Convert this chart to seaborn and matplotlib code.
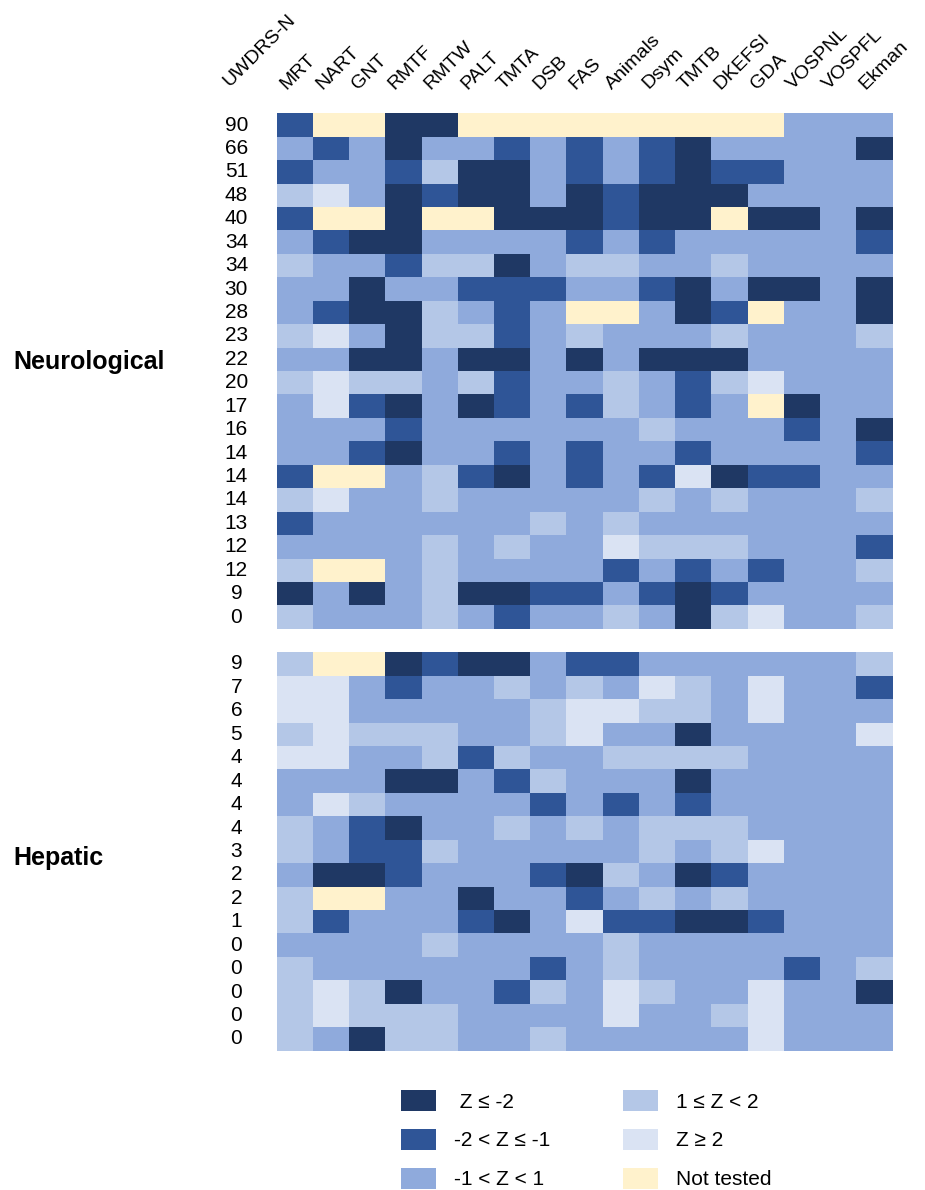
import numpy as np
import pandas as pd
import matplotlib
matplotlib.use("Agg")
import matplotlib.pyplot as plt
from matplotlib.colors import ListedColormap
from matplotlib.patches import Patch
from matplotlib.transforms import ScaledTranslation
import seaborn as sns

tests = ['MRT', 'NART', 'GNT', 'RMTF', 'RMTW', 'PALT', 'TMTA', 'DSB', 'FAS',
         'Animals', 'Dsym', 'TMTB', 'DKEFSI', 'GDA', 'VOSPNL', 'VOSPFL', 'Ekman']

neuro_uwdrs = [90, 66, 51, 48, 40, 34, 34, 30, 28, 23, 22, 20, 17, 16, 14, 14, 14, 13, 12, 12, 9, 0]
hepatic_uwdrs = [9, 7, 6, 5, 4, 4, 4, 4, 3, 2, 2, 1, 0, 0, 0, 0, 0]

# one letter per test: D Z<=-2, B -2<Z<=-1, M -1<Z<1, L 1<=Z<2, W Z>=2, N not tested
neuro_cells = [
    "BNNDDNNNNNNNNNMMM",
    "MBMDMMBMBMBDMMMMD",
    "BMMBLDDMBMBDBBMMM",
    "LWMDBDDMDBDDDMMMM",
    "BNNDNNDDDBDDNDDMD",
    "MBDDMMMMBMBMMMMMB",
    "LMMBLLDMLLMMLMMMM",
    "MMDMMBBBMMBDMDDMD",
    "MBDDLMBMNNMDBNMMD",
    "LWMDLLBMLMMMLMMML",
    "MMDDMDDMDMDDDMMMM",
    "LWLLMLBMMLMBLWMMM",
    "MWBDMDBMBLMBMNDMM",
    "MMMBMMMMMMLMMMBMD",
    "MMBDMMBMBMMBMMMMB",
    "BNNMLBDMBMBWDBBMM",
    "LWMMLMMMMMLMLMMML",
    "BMMMMMMLMLMMMMMMM",
    "MMMMLMLMMWLLLMMMB",
    "LNNMLMMMMBMBMBMML",
    "DMDMLDDBBMBDBMMMM",
    "LMMMLMBMMLMDLWMML",
]

hepatic_cells = [
    "LNNDBDDMBBMMMMMML",
    "WWMBMMLMLMWLMWMMB",
    "WWMMMMMLWWLLMWMMM",
    "LWLLLMMLWMMDMMMMW",
    "WWMMLBLMMLLLLMMMM",
    "MMMDDMBLMMMDMMMMM",
    "MWLMMMMBMBMBMMMMM",
    "LMBDMMLMLMLLLMMMM",
    "LMBBLMMMMMLMLWMMM",
    "MDDBMMMBDLMDBMMMM",
    "LNNMMDMMBMLMLMMMM",
    "LBMMMBDMWBBDDBMMM",
    "MMMMLMMMMLMMMMMMM",
    "LMMMMMMBMLMMMMBML",
    "LWLDMMBLMWLMMWMMD",
    "LWLLLMMMMWMMLWMMM",
    "LMDLLMMLMMMMMWMMM",
]

category_keys = ['D', 'B', 'M', 'L', 'W', 'N']
category_labels = [' Z ≤ -2', '-2 < Z ≤ -1', '-1 < Z < 1', '1 ≤ Z < 2', 'Z ≥ 2', 'Not tested']
category_colors = ['#1F3864', '#2F5597', '#8FAADC', '#B4C7E7', '#DAE3F3', '#FFF2CC']

sns.set_style("white")
plt.rcParams['font.family'] = ['Liberation Sans', 'DejaVu Sans']
plt.rcParams['text.color'] = 'black'
plt.rcParams['xtick.color'] = 'black'
plt.rcParams['ytick.color'] = 'black'

code_of = {k: i for i, k in enumerate(category_keys)}
rows = [[code_of[c] for c in r] for r in neuro_cells]
rows += [[np.nan] * len(tests)]  # gap between the two groups
rows += [[code_of[c] for c in r] for r in hepatic_cells]
row_labels = [str(v) for v in neuro_uwdrs] + [''] + [str(v) for v in hepatic_uwdrs]
df = pd.DataFrame(rows, columns=tests)

fig = plt.figure(figsize=(9.25, 11.9), dpi=100)
ax = fig.add_axes([0.2991, 0.1171, 0.6658, 0.7877])

cmap = ListedColormap(category_colors)
sns.heatmap(df, cmap=cmap, vmin=-0.5, vmax=len(category_colors) - 0.5, cbar=False,
            xticklabels=tests, yticklabels=row_labels, ax=ax)

ax.xaxis.tick_top()
ax.tick_params(axis='x', length=0, pad=15, labelsize=14, colors='black')
ax.tick_params(axis='y', length=0, pad=29, labelsize=15, colors='black')
shift = ScaledTranslation(-6 / 100, 0, fig.dpi_scale_trans)
for lab in ax.get_xticklabels():
    lab.set_rotation(45)
    lab.set_ha('left')
    lab.set_va('bottom')
    lab.set_rotation_mode('anchor')
    lab.set_transform(lab.get_transform() + shift)
for lab in ax.get_yticklabels():
    lab.set_rotation(0)
    lab.set_ha('center')
    lab.set_va('center')

fig.text(232 / 925, 1 - 90 / 1190, 'UWDRS-N', rotation=45, ha='left', va='bottom',
         rotation_mode='anchor', fontsize=14)
fig.text(13 / 925, 1 - 362 / 1190, 'Neurological', ha='left', va='center',
         fontsize=18, fontweight='bold')
fig.text(13 / 925, 1 - 858 / 1190, 'Hepatic', ha='left', va='center',
         fontsize=18, fontweight='bold')

handles = [Patch(facecolor=c, edgecolor='none') for c in category_colors]
fig.legend(handles, category_labels, ncol=2, loc='upper left',
           bbox_to_anchor=(401 / 925, 1 - 1090 / 1190), frameon=False, fontsize=15,
           handlelength=1.68, handleheight=1.2, handletextpad=0.87,
           columnspacing=3.5, labelspacing=0.82, borderpad=0, borderaxespad=0)

fig.savefig('out.png', dpi=100)
